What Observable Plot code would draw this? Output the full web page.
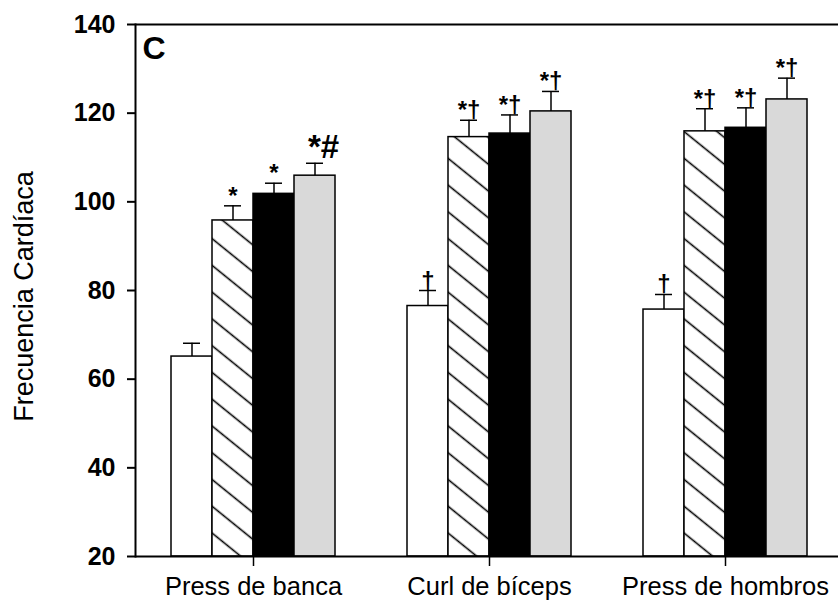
<!DOCTYPE html>
<html><head><meta charset="utf-8">
<script src="https://cdn.jsdelivr.net/npm/d3@7"></script>
<script src="https://cdn.jsdelivr.net/npm/@observablehq/plot@0.6"></script>
<style>
body{margin:0;background:#fff}
#chart{font-family: Arial, "Liberation Sans", sans-serif}
</style>
</head><body><div id="chart"></div>
<script>
const groups = ["Press de banca", "Curl de bíceps", "Press de hombros"];
const series = ["Condición 1", "Condición 2", "Condición 3", "Condición 4"];
const valuesBanca = [65.1, 95.8, 101.8, 105.9];
const valuesCurl = [76.5, 114.6, 115.4, 120.4];
const valuesHombros = [75.7, 115.9, 116.7, 123.1];
const errorsBanca = [3.0, 3.3, 2.4, 2.8];
const errorsCurl = [3.5, 3.8, 4.2, 4.5];
const errorsHombros = [3.4, 5.1, 4.5, 4.8];
const marksBanca = ["", "*", "*", "*#"];
const marksCurl = ["†", "*†", "*†", "*†"];
const marksHombros = ["†", "*†", "*†", "*†"];
const yTicks = [20, 40, 60, 80, 100, 120, 140];
const yLabel = "Frecuencia Cardíaca";
const panelLabel = "C";

const seriesFills = ["white", "url(#hatch)", "black", "#d9d9d9"];
const values = [valuesBanca, valuesCurl, valuesHombros];
const errors = [errorsBanca, errorsCurl, errorsHombros];
const sigMarks = [marksBanca, marksCurl, marksHombros];

const data = groups.flatMap((g, gi) => series.map((s, si) => ({
  group: g, series: s, value: values[gi][si], err: errors[gi][si], mark: sigMarks[gi][si]
})));
const errTop = d => d.value + d.err;
const fillOf = d => seriesFills[series.indexOf(d.series)];
const yMin = yTicks[0], yMax = yTicks[yTicks.length - 1];

const chart = Plot.plot({
  width: 838, height: 601,
  marginLeft: 135, marginRight: -5, marginTop: 24, marginBottom: 45,
  style: {fontFamily: "Arial, 'Liberation Sans', sans-serif", background: "white", color: "black"},
  fx: {domain: groups, padding: 0, label: null},
  x: {domain: series, padding: 0, insetLeft: 34, insetRight: 35, axis: null},
  y: {domain: [yMin, yMax]},
  color: {type: "identity"},
  marks: [
    Plot.barY(data, {fx: "group", x: "series", y1: yMin, y2: "value", fill: fillOf, stroke: "black", strokeWidth: 1.5}),
    Plot.ruleX(data, {fx: "group", x: "series", y1: "value", y2: errTop, stroke: "black", strokeWidth: 1.5}),
    Plot.tickY(data, {fx: "group", x: "series", y: errTop, insetLeft: 12, insetRight: 12, stroke: "black", strokeWidth: 1.5}),
    Plot.text(data.filter(d => d.mark && d.mark !== "*#"), {fx: "group", x: "series", y: errTop, text: "mark", lineAnchor: "bottom", dy: -2, fontSize: 24, fontWeight: "bold"}),
    Plot.text(data.filter(d => d.mark === "*#"), {fx: "group", x: "series", y: errTop, text: "mark", lineAnchor: "bottom", textAnchor: "start", dx: -7, dy: -5, fontSize: 33, fontWeight: "bold"}),
    Plot.ruleY([yMin], {stroke: "black", strokeWidth: 2}),
    Plot.ruleY([yMax], {stroke: "black", strokeWidth: 2}),
    Plot.frame({anchor: "left", facetAnchor: "left", stroke: "black", strokeWidth: 2}),
    Plot.axisY({ticks: yTicks, tickSize: 8, tickPadding: 12, fontSize: 25, fontWeight: "bold", label: null, strokeWidth: 2}),
    Plot.axisFx({anchor: "bottom", tickSize: 10, tickPadding: 10, fontSize: 25.5, label: null, stroke: "black", strokeWidth: 1.5}),
    Plot.text([{fx: groups[0], t: yLabel}], {fx: "fx", text: "t", frameAnchor: "left", textAnchor: "middle", rotate: -90, dx: -111, dy: 6, fontSize: 27}),
    Plot.text([{fx: groups[0], t: panelLabel}], {fx: "fx", text: "t", frameAnchor: "top-left", dx: 7, dy: 12, lineAnchor: "top", fontSize: 32, fontWeight: "bold"})
  ]
});

const svg = chart.tagName.toLowerCase() === "svg" ? chart : chart.querySelector("svg");
d3.select(svg).insert("defs", ":first-child").html(
  `<pattern id="hatch" patternUnits="userSpaceOnUse" width="21" height="20.8" patternTransform="rotate(39)">
     <rect width="21" height="20.8" fill="white"></rect>
     <line x1="0" y1="10.4" x2="21" y2="10.4" stroke="black" stroke-width="1.6"></line>
   </pattern>`);
document.getElementById("chart").appendChild(chart);
</script>
</body></html>
